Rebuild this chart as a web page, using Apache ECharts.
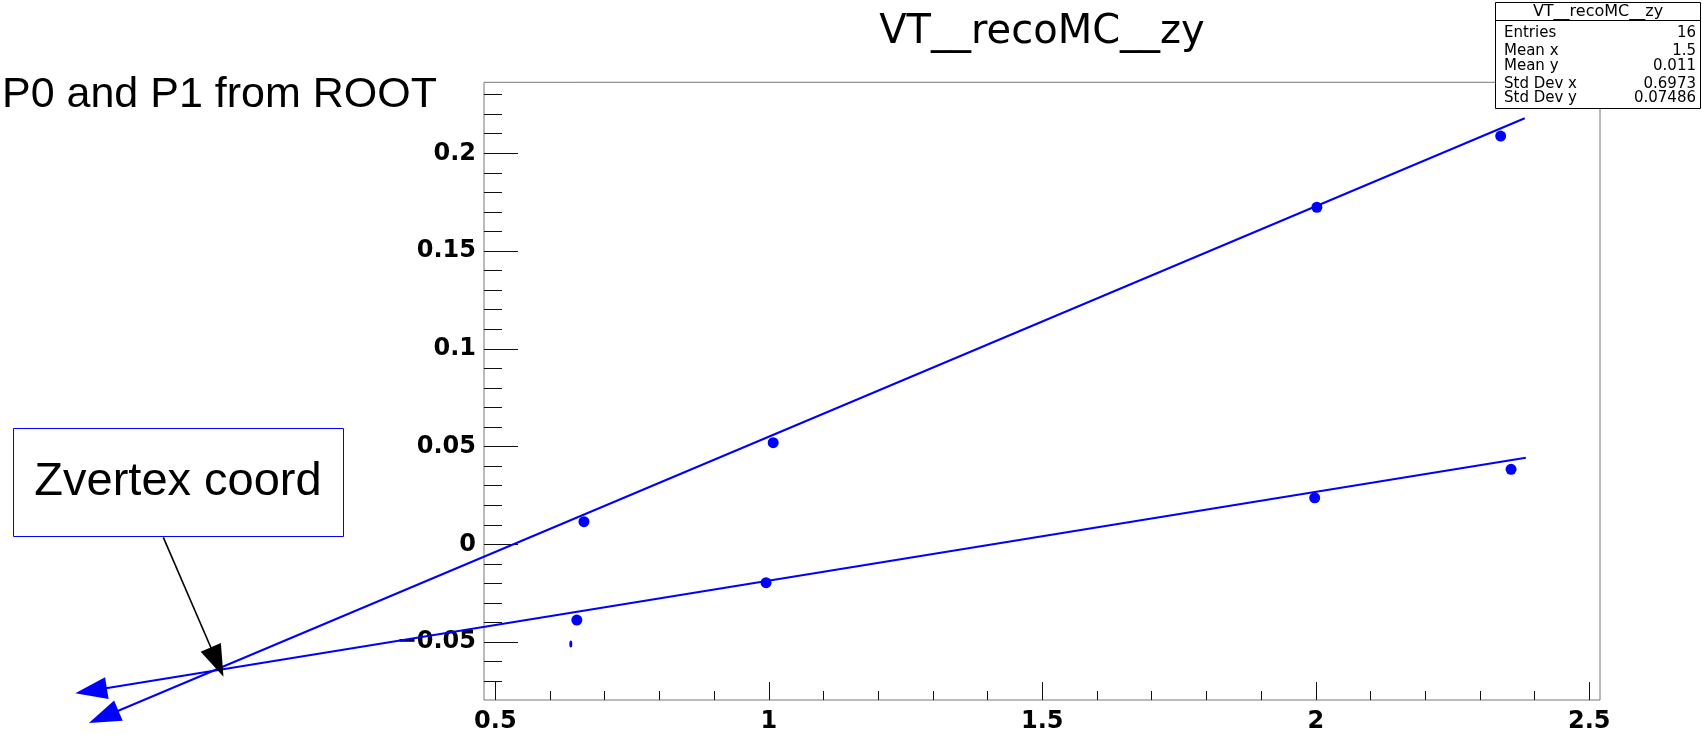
<!DOCTYPE html>
<html><head><meta charset="utf-8">
<script src="https://cdn.jsdelivr.net/npm/echarts@6/dist/echarts.min.js"></script>
<style>html,body{margin:0;padding:0;background:#fff}#c{width:1702px;height:735px}</style>
</head><body><div id="c"></div>
<script>
// ---- data ----
const upperX = [0.662, 1.008, 2.002, 2.338];
const upperY = [0.0116, 0.0520, 0.1724, 0.2088];
const lowerX = [0.649, 0.995, 1.998, 2.357];
const lowerY = [-0.0387, -0.0196, 0.0238, 0.0384];
const strayX = [0.638];
const strayY = [-0.051];
// fit lines: [xRight, yRight, xLeft (arrow tip), yLeft]
const fitUpper = [2.382, 0.2179, -0.243, -0.0914];
const fitLower = [2.384, 0.0443, -0.268, -0.0761];
// annotation pointer: [xStart, yStart, xTip, yTip]
const pointerArrow = [-0.107, 0.0036, 0.003, -0.0677];
const xRange = [0.4793, 2.5196];
const yRange = [-0.0796, 0.2363];
const xMajorTicks = [0.5, 1, 1.5, 2, 2.5];
const xMinorTicks = [0.6, 0.7, 0.8, 0.9, 1.1, 1.2, 1.3, 1.4, 1.6, 1.7, 1.8, 1.9, 2.1, 2.2, 2.3, 2.4];
const yMajorTicks = [-0.05, 0, 0.05, 0.1, 0.15, 0.2];
const yMinorTicks = [-0.07, -0.06, -0.04, -0.03, -0.02, -0.01, 0.01, 0.02, 0.03, 0.04, 0.06, 0.07, 0.08, 0.09,
  0.11, 0.12, 0.13, 0.14, 0.16, 0.17, 0.18, 0.19, 0.21, 0.22, 0.23];
const titleText = 'VT__recoMC__zy';
const statsLabels = ['Entries', 'Mean x', 'Mean y', 'Std Dev x', 'Std Dev y'];
const statsValues = ['16', '1.5', '0.011', '0.6973', '0.07486'];
const sideNote = 'P0 and P1 from ROOT';
const boxNote = 'Zvertex coord';

// ---- chart ----
const BLUE = '#0000ff';
const chart = echarts.init(document.getElementById('c'), null, {renderer: 'canvas'});
const zip = (xs, ys) => xs.map((x, i) => [x, ys[i]]);
const fmt = v => (v < 0 ? '\u2212' + Math.abs(v) : String(v));
const tickFont = {fontFamily: 'DejaVu Sans', fontWeight: 'bold', fontSize: 24, color: '#000'};

function arrowRender(params, api) {
  const p1 = api.coord([api.value(0), api.value(1)]);
  const p2 = api.coord([api.value(2), api.value(3)]);
  const color = api.visual('color');
  const dx = p2[0] - p1[0], dy = p2[1] - p1[1];
  const len = Math.hypot(dx, dy), ux = dx / len, uy = dy / len;
  const L = 32, W = 11;
  const bx = p2[0] - ux * L, by = p2[1] - uy * L;
  return {type: 'group', children: [
    {type: 'line', shape: {x1: p1[0], y1: p1[1], x2: bx + ux * 4, y2: by + uy * 4},
      style: {stroke: color, lineWidth: params.seriesName === 'pointer' ? 1.6 : 2}},
    {type: 'polygon', shape: {points: [p2, [bx - uy * W, by + ux * W], [bx + uy * W, by - ux * W]]},
      style: {fill: color}}
  ]};
}

const statsRowsY = [33, 51, 66.5, 84.5, 98.5];
const graphics = [
  {type: 'text', x: 1042, y: 33, style: {text: titleText, font: '40px "DejaVu Sans"', fill: '#000',
    textAlign: 'center', align: 'center', textVerticalAlign: 'middle', verticalAlign: 'middle'}},
  {type: 'text', x: 2, y: 95, style: {text: sideNote, font: '43px "Liberation Sans"', fill: '#000',
    textAlign: 'left', align: 'left', textVerticalAlign: 'middle', verticalAlign: 'middle'}},
  {type: 'rect', shape: {x: 1495.5, y: 2.5, width: 205, height: 106}, style: {fill: '#fff', stroke: '#000', lineWidth: 1}},
  {type: 'line', shape: {x1: 1495.5, y1: 20.5, x2: 1700.5, y2: 20.5}, style: {stroke: '#000', lineWidth: 1}},
  {type: 'text', x: 1598, y: 12, style: {text: titleText, font: '16px "DejaVu Sans"', fill: '#000',
    textAlign: 'center', align: 'center', textVerticalAlign: 'middle', verticalAlign: 'middle'}},
  {type: 'rect', shape: {x: 13.5, y: 428.5, width: 330, height: 108}, style: {fill: '#fff', stroke: BLUE, lineWidth: 1}},
  {type: 'text', x: 178, y: 482, style: {text: boxNote, font: '47px "Liberation Sans"', fill: '#000',
    textAlign: 'center', align: 'center', textVerticalAlign: 'middle', verticalAlign: 'middle'}}
];
statsLabels.forEach((t, i) => {
  graphics.push({type: 'text', x: 1504, y: statsRowsY[i], style: {text: t, font: '15px "DejaVu Sans"', fill: '#000',
    textAlign: 'left', align: 'left', textVerticalAlign: 'middle', verticalAlign: 'middle'}});
  graphics.push({type: 'text', x: 1696, y: statsRowsY[i], style: {text: statsValues[i], font: '15px "DejaVu Sans"', fill: '#000',
    textAlign: 'right', align: 'right', textVerticalAlign: 'middle', verticalAlign: 'middle'}});
});

const option = {
  animation: false,
  backgroundColor: '#fff',
  grid: {left: 484, top: 82.3, width: 1116, height: 617.7, show: true, borderColor: '#777', borderWidth: 1, backgroundColor: 'transparent'},
  xAxis: [
    {type: 'value', min: xRange[0], max: xRange[1], position: 'bottom', splitLine: {show: false},
      axisLine: {show: false, onZero: false},
      axisTick: {show: true, inside: true, length: 18, customValues: xMajorTicks, lineStyle: {color: '#111', width: 1}},
      axisLabel: {show: true, customValues: xMajorTicks, margin: 10, formatter: fmt, ...tickFont}},
    {type: 'value', min: xRange[0], max: xRange[1], position: 'bottom', splitLine: {show: false},
      axisLine: {show: false, onZero: false},
      axisTick: {show: true, inside: true, length: 9, customValues: xMinorTicks, lineStyle: {color: '#111', width: 1}},
      axisLabel: {show: false}}
  ],
  yAxis: [
    {type: 'value', min: yRange[0], max: yRange[1], position: 'left', splitLine: {show: false},
      axisLine: {show: false, onZero: false},
      axisTick: {show: true, inside: true, length: 34, customValues: yMajorTicks, lineStyle: {color: '#111', width: 1}},
      axisLabel: {show: true, customValues: yMajorTicks, margin: 8, formatter: fmt, ...tickFont}},
    {type: 'value', min: yRange[0], max: yRange[1], position: 'left', splitLine: {show: false},
      axisLine: {show: false, onZero: false},
      axisTick: {show: true, inside: true, length: 18, customValues: yMinorTicks, lineStyle: {color: '#111', width: 1}},
      axisLabel: {show: false}}
  ],
  series: [
    {name: 'upper', type: 'scatter', data: zip(upperX, upperY), symbol: 'circle', symbolSize: 11, itemStyle: {color: BLUE, opacity: 1}},
    {name: 'lower', type: 'scatter', data: zip(lowerX, lowerY), symbol: 'circle', symbolSize: 11, itemStyle: {color: BLUE, opacity: 1}},
    {name: 'stray', type: 'scatter', data: zip(strayX, strayY), symbol: 'circle', symbolSize: [3, 7], itemStyle: {color: BLUE, opacity: 1}},
    {name: 'fits', type: 'custom', clip: false, renderItem: arrowRender, itemStyle: {color: BLUE},
      encode: {x: [0, 2], y: [1, 3]}, data: [fitUpper, fitLower], z: 3},
    {name: 'pointer', type: 'custom', clip: false, renderItem: arrowRender, itemStyle: {color: '#000'},
      encode: {x: [0, 2], y: [1, 3]}, data: [pointerArrow], z: 4}
  ],
  graphic: {elements: graphics}
};
chart.setOption(option);
</script></body></html>
